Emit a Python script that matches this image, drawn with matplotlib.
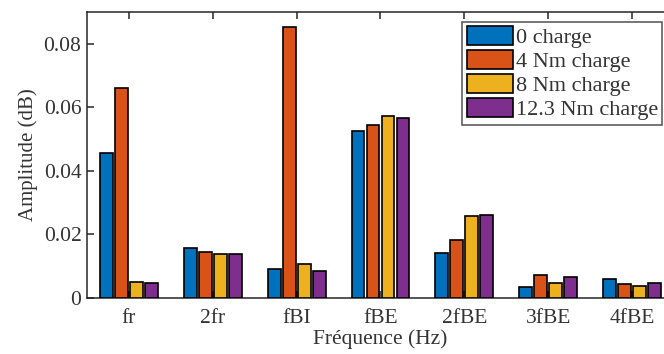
import numpy as np
import matplotlib
matplotlib.use("Agg")
import matplotlib.pyplot as plt

plt.rcParams['font.family'] = ['Liberation Serif', 'DejaVu Serif']
plt.rcParams['mathtext.fontset'] = 'stix'

categories = ['fr', '2fr', 'fBI', 'fBE', '2fBE', '3fBE', '4fBE']
series_labels = ['0 charge', '4 Nm charge', '8 Nm charge', '12.3 Nm charge']
charge_0 = [0.0455, 0.0158, 0.0090, 0.0526, 0.0143, 0.0035, 0.0059]
charge_4 = [0.0662, 0.0145, 0.0854, 0.0545, 0.0184, 0.0072, 0.0043]
charge_8 = [0.0050, 0.0137, 0.0106, 0.0573, 0.0258, 0.0046, 0.0039]
charge_12 = [0.0048, 0.0140, 0.0084, 0.0565, 0.0261, 0.0066, 0.0048]
yticks = [0, 0.02, 0.04, 0.06, 0.08]
ytick_labels = ['0', '0.02', '0.04', '0.06', '0.08']

colors = ['#0072BD', '#D95319', '#EDB120', '#7E2F8E']
series = [charge_0, charge_4, charge_8, charge_12]

W, H = 664, 354
fig = plt.figure(figsize=(W / 100, H / 100), dpi=100)
# axes box runs past the right edge of the canvas
left, right, top, bottom = 87, 674, 12, 298
ax = fig.add_axes([left / W, 1 - bottom / H, (right - left) / W, (bottom - top) / H])

x = np.arange(1, len(categories) + 1)
stride = 0.179
width = 0.152
for i, (vals, col, lab) in enumerate(zip(series, colors, series_labels)):
    ax.bar(x + (i - 1.5) * stride, vals, width, color=col, edgecolor='black',
           linewidth=1.2, label=lab, zorder=3)

ax.set_xlim(0.5, 7.5)
ax.set_ylim(0, 0.09)
ax.set_xticks(x)
ax.set_xticklabels(categories)
ax.set_yticks(yticks)
ax.set_yticklabels(ytick_labels)

txt = '#333333'
for s in ax.spines.values():
    s.set_color('#262626')
    s.set_linewidth(1.1)
ax.tick_params(axis='both', direction='in', length=5, width=1.1, color='#262626',
               labelsize=15.5, labelcolor=txt, top=True, right=True)
ax.tick_params(axis='x', pad=8)
ax.tick_params(axis='y', pad=4)

ax.set_xlabel('Fréquence (Hz)', fontsize=15.5, color=txt, labelpad=1)
ax.set_ylabel('Amplitude (dB)', fontsize=15, color=txt, labelpad=4)

leg = ax.legend(loc='upper right', bbox_to_anchor=(0.98, 0.966), borderaxespad=0,
                fontsize=16, frameon=True, fancybox=False, edgecolor='#262626',
                handlelength=2.1, handleheight=0.95, handletextpad=0.1,
                labelspacing=0.08, borderpad=0.2)
for t in leg.get_texts():
    t.set_color(txt)
leg.get_frame().set_linewidth(1.1)
leg.get_frame().set_facecolor('white')

fig.savefig('out.png', dpi=100)
